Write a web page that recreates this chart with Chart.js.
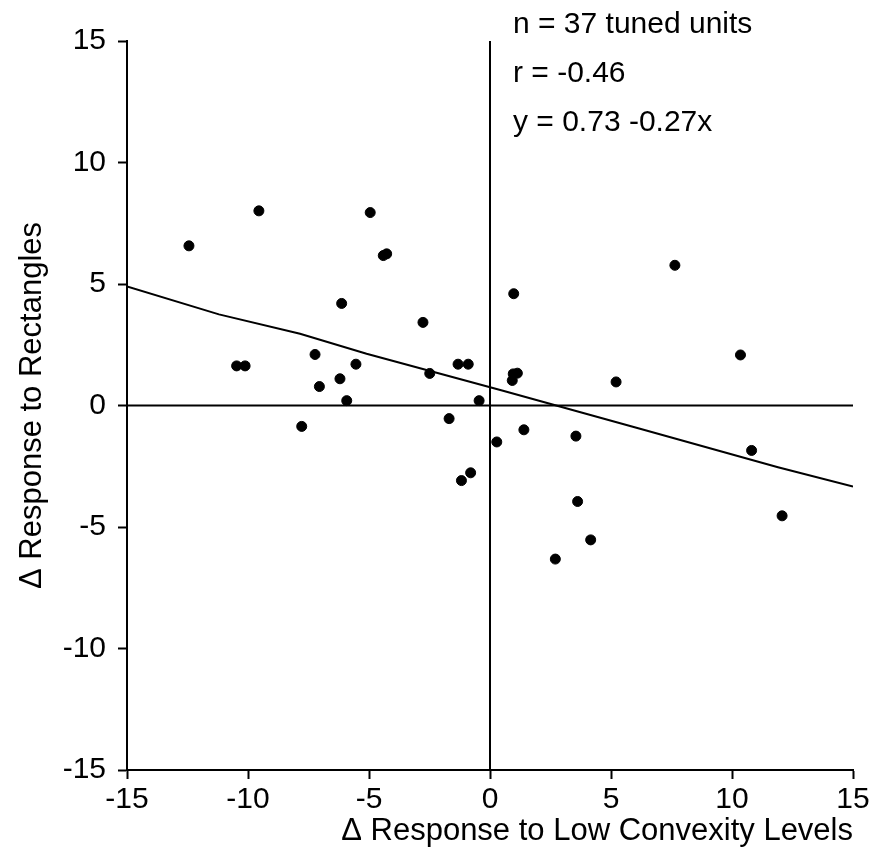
<!DOCTYPE html>
<html>
<head>
<meta charset="utf-8">
<script src="https://cdn.jsdelivr.net/npm/chart.js@4/dist/chart.umd.min.js"></script>
<style>
  html, body { margin: 0; padding: 0; background: #fff; }
  #wrap { width: 882px; height: 854px; }
</style>
</head>
<body>
<div id="wrap"><canvas id="scatter"></canvas></div>
<script>
// delta response to low convexity levels (x) vs delta response to rectangles (y)
const unitX = [
  -12.44, -10.47, -10.12, -9.55, -7.78, -7.23, -7.05, -6.2, -6.13, -5.92,
  -5.54, -4.95, -4.41, -4.27, -2.77, -2.49, -1.69, -1.32, -1.18, -0.9,
  -0.8, -0.45, 0.28, 0.92, 0.96, 0.98, 1.13, 1.4, 2.7, 3.55,
  3.62, 4.16, 5.21, 7.64, 10.35, 10.81, 12.07,
];
const unitY = [
  6.57, 1.63, 1.63, 8.01, -0.86, 2.1, 0.78, 1.1, 4.2, 0.2,
  1.7, 7.94, 6.17, 6.24, 3.42, 1.32, -0.54, 1.7, -3.09, 1.7,
  -2.77, 0.2, -1.5, 1.03, 1.3, 4.6, 1.33, -1.0, -6.32, -1.26,
  -3.95, -5.53, 0.97, 5.77, 2.08, -1.85, -4.54,
];

// fit line as drawn
const fitX = [-15, -11.2, -7.85, -5.1, 0.5, 6.2, 11.9, 15];
const fitY = [4.9, 3.75, 2.95, 2.13, 0.62, -0.96, -2.54, -3.33];

const axisMin = -15;
const axisMax = 15;
const tickStep = 5;

const statsLines = ["n = 37 tuned units", "r = -0.46", "y = 0.73 -0.27x"];

const FONT = "'Liberation Sans', Arial, Helvetica, sans-serif";

const points = unitX.map((x, i) => ({ x: x, y: unitY[i] }));
const fitLine = fitX.map((x, i) => ({ x: x, y: fitY[i] }));

// text block at the top, left edge just right of x = 0
const statsText = {
  id: "statsText",
  afterDraw(chart) {
    const ctx = chart.ctx;
    const left = chart.scales.x.getPixelForValue(0) + 23;
    ctx.save();
    ctx.fillStyle = "#000";
    ctx.font = "30px " + FONT;
    ctx.textAlign = "left";
    ctx.textBaseline = "middle";
    statsLines.forEach((line, i) => {
      ctx.fillText(line, left, 25 + i * 49);
    });
    ctx.restore();
  },
};

const scaleCommon = {
  type: "linear",
  min: axisMin,
  max: axisMax,
  border: { display: true, color: "#000", width: 2 },
  grid: {
    drawOnChartArea: false,
    drawTicks: true,
    tickLength: 9,
    tickWidth: 2,
    tickColor: "#000",
  },
};

new Chart(document.getElementById("scatter"), {
  type: "scatter",
  data: {
    datasets: [
      {
        label: "zero x",
        type: "line",
        data: [{ x: 0, y: axisMin }, { x: 0, y: axisMax }],
        borderColor: "#000",
        borderWidth: 2,
        pointRadius: 0,
      },
      {
        label: "zero y",
        type: "line",
        data: [{ x: axisMin, y: 0 }, { x: axisMax, y: 0 }],
        borderColor: "#000",
        borderWidth: 2,
        pointRadius: 0,
      },
      {
        label: "fit",
        type: "line",
        data: fitLine,
        borderColor: "#000",
        borderWidth: 2,
        pointRadius: 0,
      },
      {
        label: "units",
        data: points,
        backgroundColor: "#000",
        borderColor: "#000",
        pointRadius: 5,
        pointHoverRadius: 5,
      },
    ],
  },
  options: {
    responsive: true,
    maintainAspectRatio: false,
    animation: false,
    layout: { padding: { top: 41, right: 29, left: 0, bottom: 0 } },
    plugins: {
      legend: { display: false },
      tooltip: { enabled: false },
    },
    scales: {
      x: {
        ...scaleCommon,
        position: "bottom",
        ticks: {
          stepSize: tickStep,
          color: "#000",
          padding: 3,
          maxRotation: 0,
          font: { family: FONT, size: 30 },
        },
        title: {
          display: true,
          text: "\u0394 Response to Low Convexity Levels",
          align: "end",
          color: "#000",
          font: { family: FONT, size: 31 },
          padding: { top: 0, bottom: 4 },
        },
        afterFit(scale) {
          scale.height = 84;
        },
      },
      y: {
        ...scaleCommon,
        position: "left",
        ticks: {
          stepSize: tickStep,
          color: "#000",
          padding: 12,
          font: { family: FONT, size: 30 },
        },
        title: {
          display: true,
          text: "\u0394 Response to Rectangles",
          color: "#000",
          font: { family: FONT, size: 31 },
          padding: { top: 14, bottom: 0 },
        },
        afterFit(scale) {
          scale.width = 127;
        },
      },
    },
  },
  plugins: [statsText],
});
</script>
</body>
</html>
